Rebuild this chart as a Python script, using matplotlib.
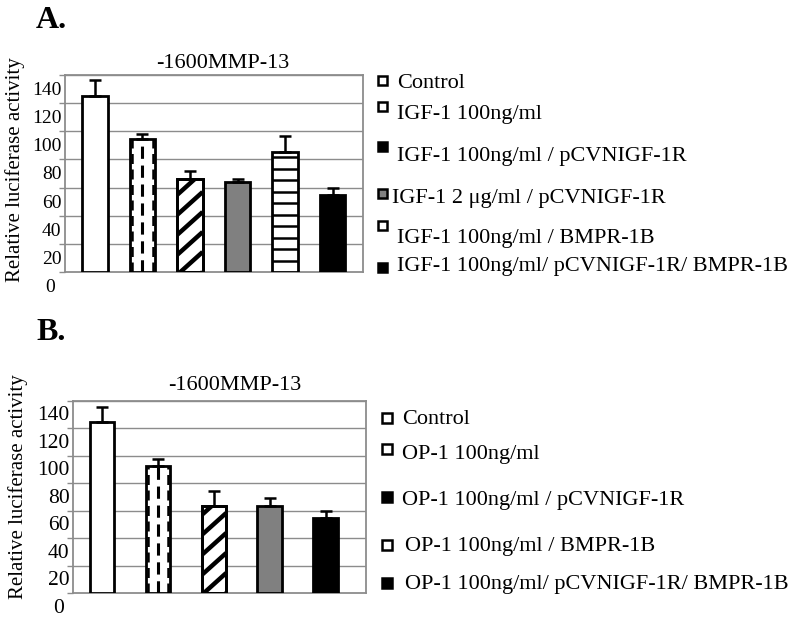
import numpy as np
import matplotlib
matplotlib.use("Agg")
import matplotlib.pyplot as plt
from matplotlib.patches import Rectangle
import matplotlib.transforms as mtransforms

plt.rcParams['font.family'] = ['Liberation Serif', 'DejaVu Serif']

# ---------------- data ----------------
title = "-1600MMP-13"
ylabel = "Relative luciferase activity"
yticks = [0, 20, 40, 60, 80, 100, 120, 140]

labels_a = ["Control", "IGF-1 100ng/ml", "IGF-1 100ng/ml / pCVNIGF-1R",
            "IGF-1 2 \u03bcg/ml / pCVNIGF-1R", "IGF-1 100ng/ml / BMPR-1B",
            "IGF-1 100ng/ml/ pCVNIGF-1R/ BMPR-1B"]
values_a = [125.3, 94.3, 66.0, 64.1, 85.6, 54.6]
errors_a = [10.9, 3.8, 5.9, 2.3, 11.1, 5.4]
styles_a = ["plain", "dashed", "diag", "gray", "horiz", "black"]
legend_styles_a = ["plain", "plain", "black", "gray", "plain", "black"]

labels_b = ["Control", "OP-1 100ng/ml", "OP-1 100ng/ml / pCVNIGF-1R",
            "OP-1 100ng/ml / BMPR-1B", "OP-1 100ng/ml/ pCVNIGF-1R/ BMPR-1B"]
values_b = [124.8, 92.2, 63.7, 63.0, 54.3]
errors_b = [10.6, 5.3, 10.9, 5.8, 5.1]
styles_b = ["plain", "dashed", "diag", "gray", "black"]
legend_styles_b = ["plain", "plain", "black", "plain", "black"]

W, H = 800, 625
fig = plt.figure(figsize=(8, 6.25), dpi=100)


def fx(px):
    return px / W


def fy(py):
    return 1 - py / H


def draw_panel(rect_px, values, errors, styles, xlim, bw, tick_fs, tick_dx):
    l, t, r, b = rect_px
    ax = fig.add_axes([fx(l), fy(b), fx(r - l), (b - t) / H])
    ax.set_xlim(*xlim)
    ax.set_ylim(0, 140)
    sx = (r - l) / (xlim[1] - xlim[0])
    sy = (b - t) / 140.0
    for v in yticks[1:]:
        ax.axhline(v, color='#8c8c8c', lw=1.0, zorder=1)
    for s in ax.spines.values():
        s.set_color('#8c8c8c')
        s.set_linewidth(1.3)
    ax.set_yticks(yticks)
    ax.set_yticklabels([])
    ax.tick_params(axis='y', length=4, color='#8c8c8c', width=1.0)
    ax.set_xticks([])
    x = np.arange(len(values))
    for xi, v, st in zip(x, values, styles):
        face = {'gray': '#808080', 'black': 'black'}.get(st, 'white')
        bar = Rectangle((xi - bw / 2, 0), bw, v, facecolor=face,
                        edgecolor='black', lw=2.0, zorder=3)
        ax.add_patch(bar)
        if st == 'dashed':
            ax.plot([xi, xi], [0, v], color='black', lw=2.2,
                    dashes=(4, 2.2), zorder=4)
            for side in (-1, 1):
                xe = xi + side * (bw / 2 - 2.2 / sx)
                ax.plot([xe, xe], [0, v], color='black', lw=1.8,
                        dashes=(4, 2.2), zorder=4)
        elif st == 'horiz':
            step = 11.5 / sy
            for yy in np.arange(step, v, step):
                ax.plot([xi - bw / 2, xi + bw / 2], [yy, yy], color='black',
                        lw=1.8, zorder=4, solid_capstyle='butt')
        elif st == 'diag':
            slope = 0.9 * sx / sy  # data units
            step = 20.0 / sy
            x0, x1 = xi - bw / 2, xi + bw / 2
            rise = slope * (x1 - x0)
            for c in np.arange(-rise, v + step, step):
                ln, = ax.plot([x0, x1], [c, c + rise], color='black', lw=3.2,
                              zorder=4, solid_capstyle='butt')
                ln.set_clip_path(bar)
            ax.add_patch(Rectangle((xi - bw / 2, 0), bw, v, facecolor='none',
                                   edgecolor='black', lw=2.0, zorder=5))
    ax.errorbar(x, values, yerr=[np.zeros(len(values)), errors], fmt='none',
                ecolor='black', elinewidth=1.8, capsize=4.5, capthick=1.8,
                zorder=6)
    # tick labels (offset downward like the original)
    trans = mtransforms.blended_transform_factory(ax.transAxes, ax.transData)
    for v in yticks:
        dx = tick_dx - (6 if v == 0 else 0)
        offs = mtransforms.ScaledTranslation(dx / 100, 0, fig.dpi_scale_trans)
        ax.text(0, v - 11, str(v), transform=trans + offs, ha='right',
                va='center', fontsize=tick_fs, clip_on=False)
    return ax


def legend(entries, styles, marker_y, text_y, text_x, mx, msize):
    for lab, st, my, ty, tx in zip(entries, styles, marker_y, text_y, text_x):
        face = {'gray': '#808080', 'black': 'black'}.get(st, 'white')
        rect = Rectangle((fx(mx - msize / 2), fy(my + msize / 2)), msize / W,
                         msize / H, facecolor=face, edgecolor='black', lw=1.8,
                         transform=fig.transFigure)
        fig.add_artist(rect)
        fig.text(fx(tx), fy(ty), lab, fontsize=16, ha='left', va='center')


# ---------------- panel A ----------------
draw_panel((65, 75, 363, 272), values_a, errors_a, styles_a, (-0.63, 5.64), 0.53,
           14, -3.5)
fig.text(fx(223), fy(64), title, fontsize=16, ha='center', va='center')
fig.text(fx(15), fy(170), ylabel, fontsize=15, rotation=90, ha='center', va='center')
fig.text(fx(36), fy(20), "A.", fontsize=23, fontweight='bold', ha='left', va='center')
legend(labels_a, legend_styles_a,
       [80, 106, 146, 193, 225, 267],
       [83, 114, 156, 198, 238, 266],
       [397, 397, 397, 392, 397, 397], 382, 9)

# ---------------- panel B ----------------
draw_panel((72.7, 400.7, 366, 593), values_b, errors_b, styles_b, (-0.524, 4.72), 0.44,
           15.5, -3.0)
fig.text(fx(235), fy(386), title, fontsize=16, ha='center', va='center')
fig.text(fx(18), fy(487), ylabel, fontsize=15, rotation=90, ha='center', va='center')
fig.text(fx(36), fy(332), "B.", fontsize=23, fontweight='bold', ha='left', va='center')
legend(labels_b, legend_styles_b,
       [418, 449, 497, 545, 583],
       [419, 455, 501, 546, 585],
       [402, 402, 402, 405, 405], 387, 10)

fig.savefig("out.png", dpi=100)
